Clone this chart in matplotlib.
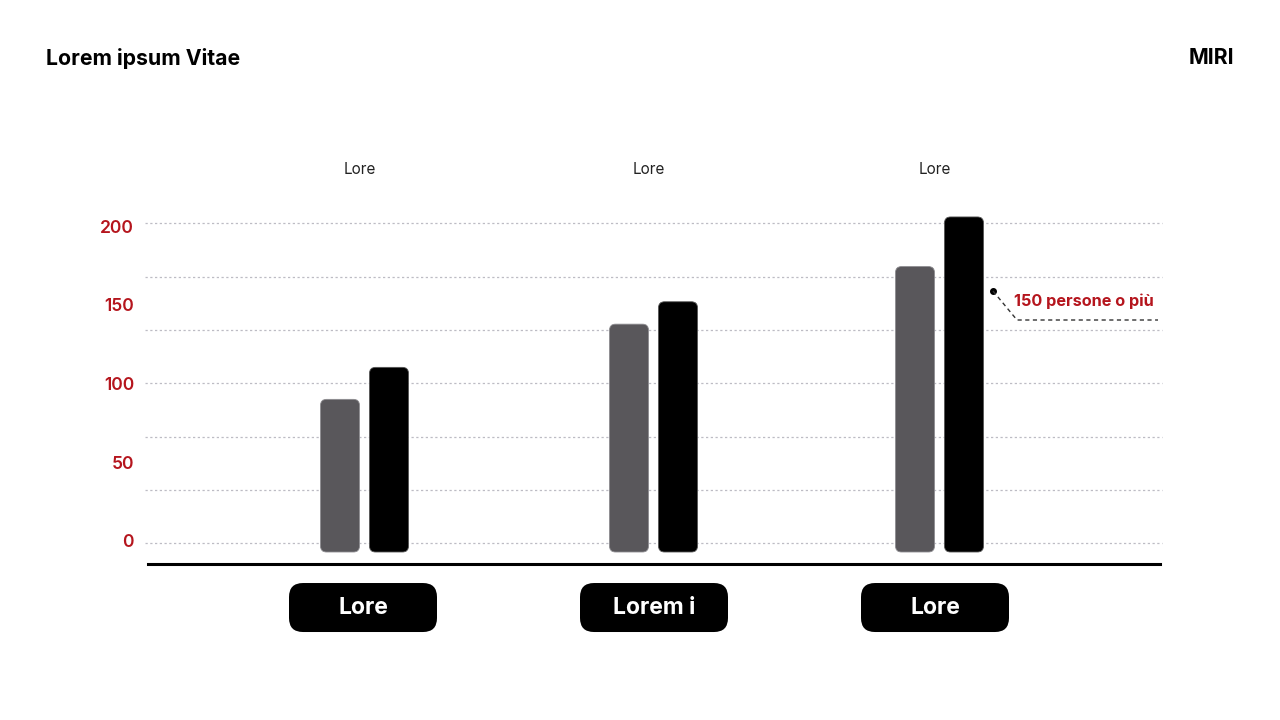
import numpy as np
import matplotlib
matplotlib.use("Agg")
import matplotlib.pyplot as plt
from matplotlib.patches import FancyBboxPatch

plt.rcParams['font.family'] = ['Inter', 'DejaVu Sans']

# data
groups = ['Lore', 'Lorem i', 'Lore']
top_labels = ['Lore', 'Lore', 'Lore']
gray_vals = [90, 137, 173]
black_vals = [110, 151, 204]
y_ticks = [0, 50, 100, 150, 200]
note_text = '150 persone o più'

RED = '#b5151d'
GRAY = '#59575b'

fig = plt.figure(figsize=(12.8, 7.2), dpi=100)
fig.patch.set_facecolor('white')

# axes: x px 148..1160, y value 0 at px 543.3, 1.6 px per unit
y_lo, y_hi = -12.9, 240.0
px_per_y = 1.6
ax_h = (y_hi - y_lo) * px_per_y
ax = fig.add_axes([148 / 1280, (720 - 564) / 720, (1160 - 148) / 1280, ax_h / 720])
x_lo, x_hi = -0.751, 2.77
ax.set_xlim(x_lo, x_hi)
ax.set_ylim(y_lo, y_hi)
px_per_x = (1160 - 148) / (x_hi - x_lo)
aspect = px_per_x / px_per_y


def px_to_x(p):
    return x_lo + (p - 148) / px_per_x


# group slots are not perfectly even in the reference layout
bar_pos = [px_to_x(p) for p in (364.5, 653.5, 939.5)]
pill_pos = [px_to_x(p) for p in (363, 654, 935)]

for s in ['top', 'right', 'left']:
    ax.spines[s].set_visible(False)
ax.spines['bottom'].set_linewidth(2.2)
ax.spines['bottom'].set_color('black')
ax.set_xticks([])
# tick labels sit on a slightly compressed scale in the reference
ax.set_yticks([1.6 + v * 0.9835 for v in y_ticks])
ax.set_yticklabels([str(v) for v in y_ticks], color=RED, fontsize=12.6,
                   fontweight='semibold')
ax.tick_params(axis='y', length=0, pad=10)

# dotted grid lines
for g in np.linspace(0, 200, 7):
    ax.plot([x_lo - 3 / px_per_x, x_hi + 2 / px_per_x], [g, g], color='#bdbcc4',
            lw=0.9, ls=(0, (1.8, 2)), zorder=1, clip_on=False)

bar_w = 39 / px_per_x
offs = 24.5 / px_per_x
base = -5.4
r = 6 / px_per_x

for i in range(len(groups)):
    xc = bar_pos[i]
    for val, dx, col, ec in [(gray_vals[i], -offs, GRAY, '#8d8c90'),
                             (black_vals[i], offs, 'black', '#555555')]:
        p = FancyBboxPatch((xc + dx - bar_w / 2, base), bar_w, val - base,
                           boxstyle='round,pad=0,rounding_size=%f' % r,
                           mutation_aspect=aspect, fc=col, ec=ec, lw=0.6,
                           zorder=3)
        ax.add_patch(p)

    # top label
    ax.text(xc - 5 / px_per_x, 233.4, top_labels[i], ha='center', va='center',
            fontsize=11, color='#222222')

    # pill label below the axis
    pw = 148 / px_per_x
    ph = 49 / px_per_y
    pc = -40.1
    px = pill_pos[i]
    pill = FancyBboxPatch((px - pw / 2, pc - ph / 2), pw, ph,
                          boxstyle='round,pad=0,rounding_size=%f' % (14 / px_per_x),
                          mutation_aspect=aspect, fc='black', ec='none',
                          clip_on=False, zorder=3)
    ax.add_patch(pill)
    ax.text(px, pc, groups[i], ha='center', va='center', color='white',
            fontsize=16.5, fontweight='bold', zorder=4, clip_on=False)

# annotation on the last black bar
ax.plot([px_to_x(993)], [157.7], 'o', color='black', ms=4, zorder=5, clip_on=False)
ax.plot([px_to_x(993), px_to_x(1017), px_to_x(1158)], [157.7, 139.6, 139.6],
        color='#333333', lw=1, ls=(0, (3, 2.5)), zorder=5, clip_on=False)
ax.text(px_to_x(1014), 151.5, note_text, ha='left', va='center', color=RED,
        fontsize=11.7, fontweight='bold')

fig.text(46 / 1280, 1 - 58.5 / 720, 'Lorem ipsum Vitae', ha='left', va='center',
         fontsize=15.3, fontweight='bold', color='black')
fig.text(1234 / 1280, 1 - 58.5 / 720, 'MIRI', ha='right', va='center',
         fontsize=15.3, fontweight='bold', color='black')

fig.savefig('out.png', dpi=100, facecolor='white')
